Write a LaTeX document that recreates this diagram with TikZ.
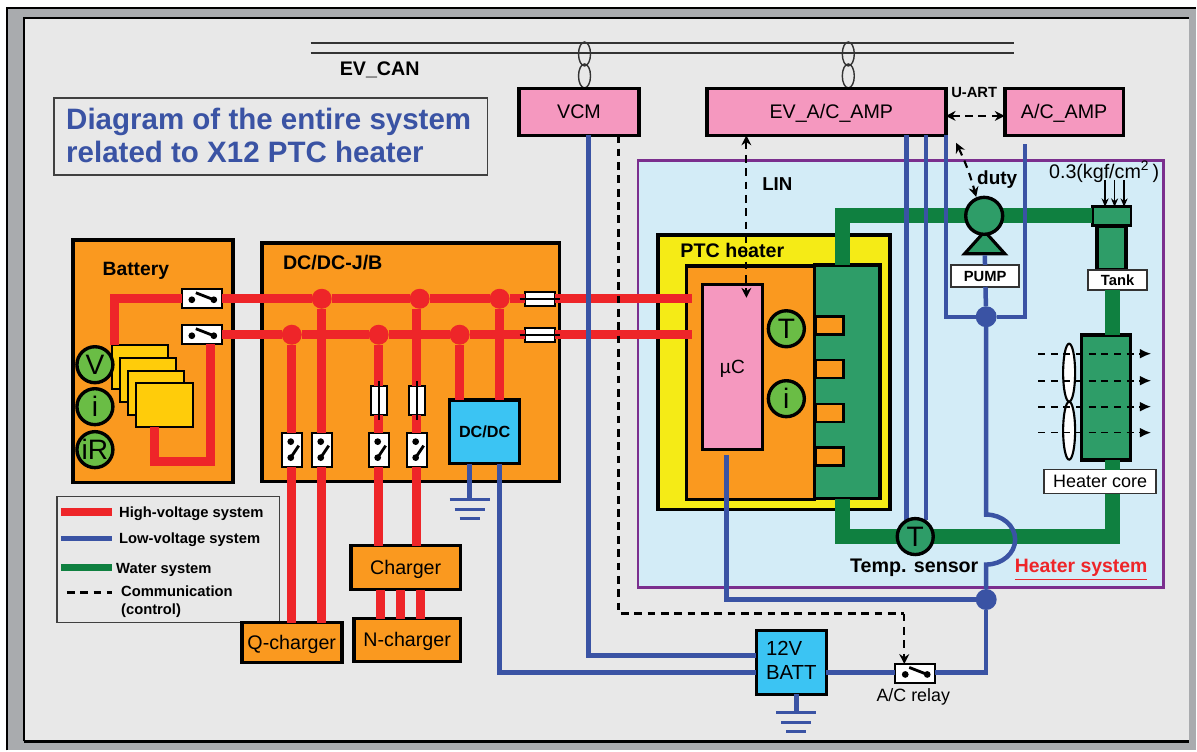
\documentclass[tikz,border=0pt]{standalone}
\usepackage{fontspec}
\setmainfont{Liberation Sans}
\usepackage{xcolor}
\usetikzlibrary{arrows.meta, calc, positioning, shapes.geometric}
\definecolor{hvred}{HTML}{EE2529}
\definecolor{lvblue}{HTML}{3A53A4}
\definecolor{wgreen}{HTML}{0F8040}
\definecolor{wblock}{HTML}{2E9D68}
\definecolor{boxorange}{HTML}{FA991F}
\definecolor{ecupink}{HTML}{F598BF}
\definecolor{battcyan}{HTML}{3BC4F3}
\definecolor{senslime}{HTML}{6ABD45}
\definecolor{ptcyellow}{HTML}{F5EB16}
\definecolor{cellgold}{HTML}{FFCC0A}
\definecolor{heatsky}{HTML}{D3ECF7}
\definecolor{panel}{HTML}{E8E8E8}
\definecolor{rimgray}{HTML}{A9ABAE}
\definecolor{hspurple}{HTML}{7B2F8E}
\begin{document}
\begin{tikzpicture}[
      x=0.025cm, y=-0.025cm, font=\fontsize{14}{17}\selectfont,
      sz/.style 2 args={minimum width=#1*0.025cm, minimum height=#2*0.025cm, inner sep=0pt, outer sep=0pt},
      unit/.style={draw=black, line width=2.6pt},
      orangebox/.style={unit, fill=boxorange, text height=0.95em, text depth=0pt},
      ecu/.style={unit, fill=ecupink, text height=0.95em, text depth=0pt},
      batt/.style={unit, fill=battcyan},
      cell/.style={draw=black, line width=1.4pt, fill=cellgold, sz={56}{44}},
      labl/.style={font=\fontsize{14}{17}\selectfont\bfseries},
      tiny/.style={font=\fontsize{10.5}{12}\selectfont\bfseries},
      legendtxt/.style={font=\fontsize{10.5}{12.6}\selectfont\bfseries, anchor=west, inner sep=0pt, align=left},
      whitebox/.style={draw=black!80, line width=1.2pt, fill=white, align=center},
      gauge/.style={circle, draw=black, line width=2.4pt, fill=senslime, sz={36}{36}, font=\fontsize{20}{20}\selectfont},
      relay/.style={draw=black, line width=1.4pt, fill=white, sz={40}{19}},
      relayv/.style={draw=black, line width=1.4pt, fill=white, sz={20}{34}},
      fuseh/.style={draw=black, line width=1.4pt, fill=white, sz={30}{14}},
      fusev/.style={draw=black, line width=1.4pt, fill=white, sz={16}{29}},
      tabbox/.style={draw=black, line width=1.8pt, fill=boxorange, sz={28}{18}},
      hjoin/.style={circle, fill=hvred, sz={20}{20}},
      ljoin/.style={circle, fill=lvblue, sz={21}{21}},
      hv/.style={hvred, line width=6.4pt},
      lv/.style={lvblue, line width=3.2pt},
      water/.style={wgreen, line width=10.6pt},
      comm/.style={black, line width=1.5pt, dash pattern=on 5.5pt off 4pt},
      dubl/.style={comm, {Stealth[length=7pt,width=7pt]}-{Stealth[length=7pt,width=7pt]}},
      sing/.style={comm, -{Stealth[length=7pt,width=7pt]}},
      earth/.style={lvblue, line width=1.8pt},
      twist/.style={draw=black!80, line width=1pt, ellipse, sz={12}{24}},
      fan/.style={draw=black, line width=1.5pt, fill=white, ellipse, sz={12}{58}},
      blowtip/.style={-{Latex[length=8pt,width=7pt]}, black, line width=1.2pt, dash pattern=on 5pt off 4pt}]
    % frame
    \fill[white] (0,0) rectangle (1197,751);
    \fill[rimgray] (8,9) rectangle (1197,751);
    \draw[black, line width=1.4pt] (7,751) -- (7,8) -- (1197,8);
    \fill[panel] (24,18) rectangle (1190,742);
    \draw[black, line width=1.2pt] (24,742) -- (24,18) -- (1190,18);
    \draw[black, line width=1.6pt] (24,742) -- (1190,742);
    \useasboundingbox (0,0) rectangle (1197,751);
    % containers
    \node[draw=hspurple, line width=2pt, fill=heatsky, sz={526}{427}] (heatsys) at (901.5,374.5) {};
    \node[orangebox, sz={160}{243}] (battery) at (153,361.5) {};
    \node[orangebox, sz={298}{239}] (jb) at (411,362.5) {};
    \node[unit, fill=ptcyellow, sz={232}{275}] (ptcouter) at (774.5,372.5) {};
    \node[orangebox, sz={128}{234}] (ptcinner) at (751,383) {};
    \node[unit, fill=wblock, sz={66}{234}] (ptcwater) at (848,382) {};
    \foreach \n/\yy in {1/326, 2/369.5, 3/413.5, 4/457}
      \node[tabbox] (tab\n) at (830,\yy) {};
    \node[draw=black!75, line width=1pt, fill=panel, align=left, sz={434}{77}] (title) at (271,136.5) {};
    \node[draw=black!75, line width=1pt, fill=panel, sz={223}{126}] (legend) at (168.5,560) {};
    % can bus
    \coordinate (canLa) at (311,43); \coordinate (canRa) at (1015,43);
    \coordinate (canLb) at (311,53); \coordinate (canRb) at (1015,53);
    \draw[black!80, line width=1.2pt] (canLa) -- (canRa);
    \draw[black!80, line width=1.2pt] (canLb) -- (canRb);
    \node[twist] (tw1) at (585,54) {};
    \node[twist] (tw2) at (585,76) {};
    \node[twist] (tw3) at (849,54) {};
    \node[twist] (tw4) at (849,76) {};
    % ecus
    \node[ecu, sz={120}{47}] (vcm) at (579.5,112) {VCM};
    \node[ecu, sz={239}{47}] (evamp) at (827,112) {\hspace{0.25cm}EV\_A/C\_AMP};
    \node[ecu, sz={119}{47}] (acamp) at (1065,112) {A/C\_AMP};
    % battery
    \node[cell] (cell1) at (140,367) {};
    \node[cell] (cell2) at (148,380) {};
    \node[cell] (cell3) at (156,393) {};
    \node[cell, sz={57}{44}] (cell4) at (164.5,405) {};
    \node[relay] (batrl1) at (202,299) {};
    \node[relay] (batrl2) at (202,335) {};
    \node[gauge] (gv) at (95,365) {V};
    \node[gauge] (gi) at (95,407) {i};
    \node[gauge] (gr) at (95,450) {iR};
    % junction box parts
    \node[hjoin] (ja1) at (322,299) {};
    \node[hjoin] (ja2) at (420,299) {};
    \node[hjoin] (ja3) at (500,299) {};
    \node[hjoin] (jb1) at (292,335) {};
    \node[hjoin] (jb2) at (379,335) {};
    \node[hjoin] (jb3) at (460,335) {};
    \node[fuseh] (fz1) at (540,299) {};
    \node[fuseh] (fz2) at (540,335) {};
    \node[fusev] (fz3) at (379,401) {};
    \node[fusev] (fz4) at (417,401) {};
    \node[relayv] (rq1) at (292,450) {};
    \node[relayv] (rq2) at (322,450) {};
    \node[relayv] (rn1) at (379,450) {};
    \node[relayv] (rn2) at (417,450) {};
    \node[unit, fill=battcyan, sz={70}{64}, font=\fontsize{11.5}{14}\selectfont\bfseries] (dcdc) at (485,432) {DC/DC};
    % chargers
    \node[orangebox, sz={110}{44}] (charger) at (406,568) {Charger};
    \node[orangebox, sz={107}{43}] (ncharger) at (407.5,640.5) {N-charger};
    \node[orangebox, sz={100}{40}] (qcharger) at (292,643) {Q-charger};
    % low voltage parts
    \node[batt, sz={70}{64}, align=left, text depth=3pt, font=\fontsize{14.5}{17}\selectfont] (batt12) at (792,663) {12V\\BATT};
    \node[relay] (acrelay) at (916,674) {};
    % heater parts
    \node[unit, fill=wblock, line width=2pt, sz={39}{19}] (tanktop) at (1112.5,216.5) {};
    \node[unit, fill=wblock, sz={29}{44}] (tankbody) at (1112.5,248) {};
    \node[whitebox, sz={59}{20}, tiny] (tank) at (1118.5,280) {Tank};
    \node[unit, fill=wblock, sz={49}{125}] (hcore) at (1107,398) {};
    \node[whitebox, sz={112}{24}, font=\fontsize{12.8}{14}\selectfont] (hclabel) at (1101,482) {Heater core};
    \node[whitebox, sz={68}{22}, tiny, text height=0.8em, text depth=0pt] (pumplab) at (986,276) {PUMP};
    \node[ljoin] (jpump) at (987,317) {};
    \node[ljoin] (jrear) at (987,600) {};
    \node[ecu, line width=2.4pt, sz={60}{165}, font=\fontsize{13.6}{16}\selectfont] (uc) at (733,367.5) {µC};
    \node[gauge] (gt) at (787,329) {T};
    \node[gauge] (gh) at (787,399) {i};
    % coordinates of free ends and bends
    \coordinate (bq1) at (115,299); \coordinate (bq2) at (115,345);
    \coordinate (bq3) at (211,462); \coordinate (bq4) at (155,462);
    \coordinate (ptcA) at (693,299); \coordinate (ptcB) at (693,335);
    \coordinate (wa) at (843,216); \coordinate (wb) at (843,537); \coordinate (wc) at (1113,537);
    \coordinate (gnda) at (470,500); \coordinate (gndb) at (797,713);
    \coordinate (ljA) at (500,673); \coordinate (ljB) at (589,656);
    \coordinate (ljC) at (947,317); \coordinate (ljD) at (1026,317); \coordinate (ljE) at (1026,144);
    \coordinate (ljG) at (987,565);
    \coordinate (ljH) at (727,600); \coordinate (ljI) at (727,455);
    \coordinate (ljJ) at (987,673);
    \coordinate (tsT) at (907,520); \coordinate (tsU) at (927,520);
    \coordinate (ctA) at (619,614); \coordinate (ctB) at (905,614);
    \coordinate (dutyA) at (957,143); \coordinate (dutyB) at (977,197);
    \coordinate (linB) at (747,298);
    % water
    \draw[water] (ptcwater.north -| wa) -- (wa) -- (tanktop.west |- wa);
    \draw[water] (tank.south -| wc) -- (hcore.north -| wc);
    \draw[water] (hcore.south -| wc) -- (hclabel.north -| wc);
    \draw[water] (hclabel.south -| wc) -- (wc) -- (wb) -- (ptcwater.south -| wb);
    % high voltage
    \draw[hv] (batrl1.west) -- (bq1) -- (bq2);
    \draw[hv] (batrl2.south -| bq3) -- (bq3) -- (bq4) -- (cell4.south -| bq4);
    \draw[hv] (batrl1) -- (ja1);
    \draw[hv] (ja1) -- (ja2);
    \draw[hv] (ja2) -- (ja3);
    \draw[hv] (ja3) -- (fz1);
    \draw[hv] (fz1) -- (ptcA);
    \draw[hv] (batrl2) -- (jb1);
    \draw[hv] (jb1) -- (jb2);
    \draw[hv] (jb2) -- (jb3);
    \draw[hv] (jb3) -- (fz2);
    \draw[hv] (fz2) -- (ptcB);
    \draw[hv] (jb1) -- (rq1);
    \draw[hv] (ja1) -- (rq2);
    \draw[hv] (jb2) -- (fz3);
    \draw[hv] (fz3) -- (rn1);
    \draw[hv] (ja2.south -| fz4) -- (fz4);
    \draw[hv] (fz4) -- (rn2);
    \draw[hv] (jb3) -- (dcdc.north -| jb3);
    \draw[hv] (ja3) -- (dcdc.north -| ja3);
    \draw[hv] (rq1) -- (qcharger.north -| rq1);
    \draw[hv] (rq2) -- (qcharger.north -| rq2);
    \draw[hv] (rn1) -- (charger.north -| rn1);
    \draw[hv] (rn2) -- (charger.north -| rn2);
    \foreach \xx in {381, 401, 421}
      \draw[hv] (charger.south -| \xx,0) -- (ncharger.north -| \xx,0);
    % low voltage
    \draw[lv] (dcdc.south -| gnda) -- (gnda);
    \draw[lv] (dcdc.south -| ja3) -- (ja3 |- ljA) -- (batt12.west |- ljA);
    \draw[lv] (vcm.south -| ljB) -- (ljB) -- (batt12.west |- ljB);
    \draw[lv] (batt12.east |- ljJ) -- (acrelay.west |- ljJ);
    \draw[lv] (acrelay.east |- ljJ) -- (ljJ) -- (jrear);
    \draw[lv] (jrear) -- (ljG) arc[start angle=90, end angle=-90, x radius=29, y radius=25] -- (jpump);
    \draw[lv] (jrear) -- (ljH) -- (ljI);
    \draw[lv] (evamp.south -| ljC) -- (ljC) -- (jpump);
    \draw[lv] (jpump) -- (ljD) -- (ljE);
    \draw[lv] (jpump) -- (pumplab);
    \draw[lv] (evamp.south -| tsT) -- (tsT);
    \draw[lv] (evamp.south -| tsU) -- (tsU);
    \draw[lv] (batt12.south -| gndb) -- (gndb);
    % pump and sensor
    \node[isosceles triangle, isosceles triangle apex angle=84, shape border rotate=90, draw=black, line width=2.2pt, fill=wblock, minimum height=0.56cm, inner sep=0pt] (pumpt) at (985.5,245) {};
    \node[circle, draw=black, line width=2.4pt, fill=wblock, sz={37}{37}] (pumpc) at (985,216) {};
    \node[gauge, fill=wblock] (gtemp) at (916,537) {T};
    \draw[lv] (pumpt) -- (pumplab);
    % fans
    \node[fan] (fan1) at (1070,373) {};
    \node[fan] (fan2) at (1070,431) {};
    \foreach \n/\yy in {a/354, b/381, c/407, d/433} {
      \coordinate (airL\n) at (1039,\yy); \coordinate (airR\n) at (1152,\yy);
      \draw[blowtip] (airL\n) -- (airR\n);
    }
    % earth bars
    \foreach \bar/\wd/\dy in {e1/20/0, e2/15/10, e3/10/19} {
      \coordinate (\bar La) at ($(gnda)+(-\wd,\dy)$); \coordinate (\bar Ra) at ($(gnda)+(\wd,\dy)$);
      \coordinate (\bar Lb) at ($(gndb)+(-\wd,\dy)$); \coordinate (\bar Rb) at ($(gndb)+(\wd,\dy)$);
      \draw[earth] (\bar La) -- (\bar Ra);
      \draw[earth] (\bar Lb) -- (\bar Rb);
    }
    % relay contacts
    \foreach \rl in {batrl1, batrl2, acrelay} {
      \draw[black, line width=2pt] ($(\rl.center)+(-6,-6)$) -- ($(\rl.center)+(12,1)$);
      \fill[black] ($(\rl.center)+(-10,1)$) circle[radius=2.4pt];
      \fill[black] ($(\rl.center)+(12,1)$) circle[radius=2.4pt];
    }
    \foreach \rl in {rq1, rq2, rn1, rn2} {
      \draw[black, line width=2pt] ($(\rl.center)+(7,-4)$) -- ($(\rl.center)+(-1,8)$);
      \fill[black] ($(\rl.center)+(-1,-8)$) circle[radius=2.4pt];
      \fill[black] ($(\rl.center)+(-1,8)$) circle[radius=2.4pt];
    }
    % fuse wires
    \foreach \fz in {fz1, fz2} \draw[black, line width=1.2pt] ($(\fz.west)+(-5,0)$) -- ($(\fz.east)+(5,0)$);
    \foreach \fz in {fz3, fz4} \draw[black, line width=1.2pt] ($(\fz.north)+(0,-5)$) -- ($(\fz.south)+(0,5)$);
    % labels
    \node[align=left, text=lvblue, font=\fontsize{21}{23}\selectfont\bfseries, anchor=west, inner sep=0pt] (titletxt) at (66,135.5) {Diagram of the entire system\\related to X12 PTC heater};
    \node[labl] (cantxt) at (380,70) {EV\_CAN};
    \node[tiny] (uarttxt) at (975,93) {U-ART};
    \node[labl, font=\fontsize{13.3}{15}\selectfont\bfseries] (lintxt) at (778,184) {LIN};
    \node[labl, font=\fontsize{13.5}{15}\selectfont\bfseries] (dutytxt) at (998,180) {duty};
    \node (kgftxt) at (1105,172) {0.3(kgf/cm\textsuperscript{2}\,)};
    \node[labl, font=\fontsize{13.7}{15}\selectfont\bfseries] (battxt) at (136,271) {Battery};
    \node[labl] (jbtxt) at (333,263) {DC/DC-J/B};
    \node[labl] (ptctxt) at (733,251) {PTC heater};
    \node[labl] (temptxt) at (915,568) {Temp. sensor};
    \node[labl, font=\fontsize{13.8}{15}\selectfont\bfseries, text=hvred] (hstxt) at (1082,570) {\underline{Heater system}};
    \node[font=\fontsize{12.7}{14}\selectfont] (reltxt) at (914,697) {A/C relay};
    % control lines
    \draw[comm] (vcm.south -| ctA) -- (ctA) -- (ctB);
    \draw[sing] (ctB) -- (acrelay.north -| ctB);
    \draw[dubl] (evamp.south -| linB) -- (linB);
    \draw[dubl] (evamp.east |- 0,116) -- (acamp.west |- 0,116);
    \draw[dubl] (dutyA) to[bend left=5] (dutyB);
    \foreach \n/\xx in {a/1106, b/1115.5, c/1125} {
      \coordinate (press\n) at (\xx,180);
      \draw[black, line width=1pt, -{Stealth[length=6pt,width=5pt]}] (press\n) -- (tanktop.north -| press\n);
    }
    % legend
    \coordinate (lgA) at (61,512); \coordinate (lgB) at (112,512);
    \coordinate (lgC) at (61,539); \coordinate (lgD) at (112,539);
    \coordinate (lgE) at (61,568); \coordinate (lgF) at (112,568);
    \coordinate (lgG) at (67,593); \coordinate (lgH) at (112,593);
    \draw[hv, line width=5.6pt] (lgA) -- (lgB);
    \draw[lv] (lgC) -- (lgD);
    \draw[water, line width=5.6pt] (lgE) -- (lgF);
    \draw[comm] (lgG) -- (lgH);
    \node[legendtxt] (lgtxt1) at (119,514.5) {High-voltage system};
    \node[legendtxt] (lgtxt2) at (119,540.5) {Low-voltage system};
    \node[legendtxt] (lgtxt3) at (116,570) {Water system};
    \node[legendtxt] (lgtxt4) at (121,602) {Communication\\(control)};
  \end{tikzpicture}
\end{document}
